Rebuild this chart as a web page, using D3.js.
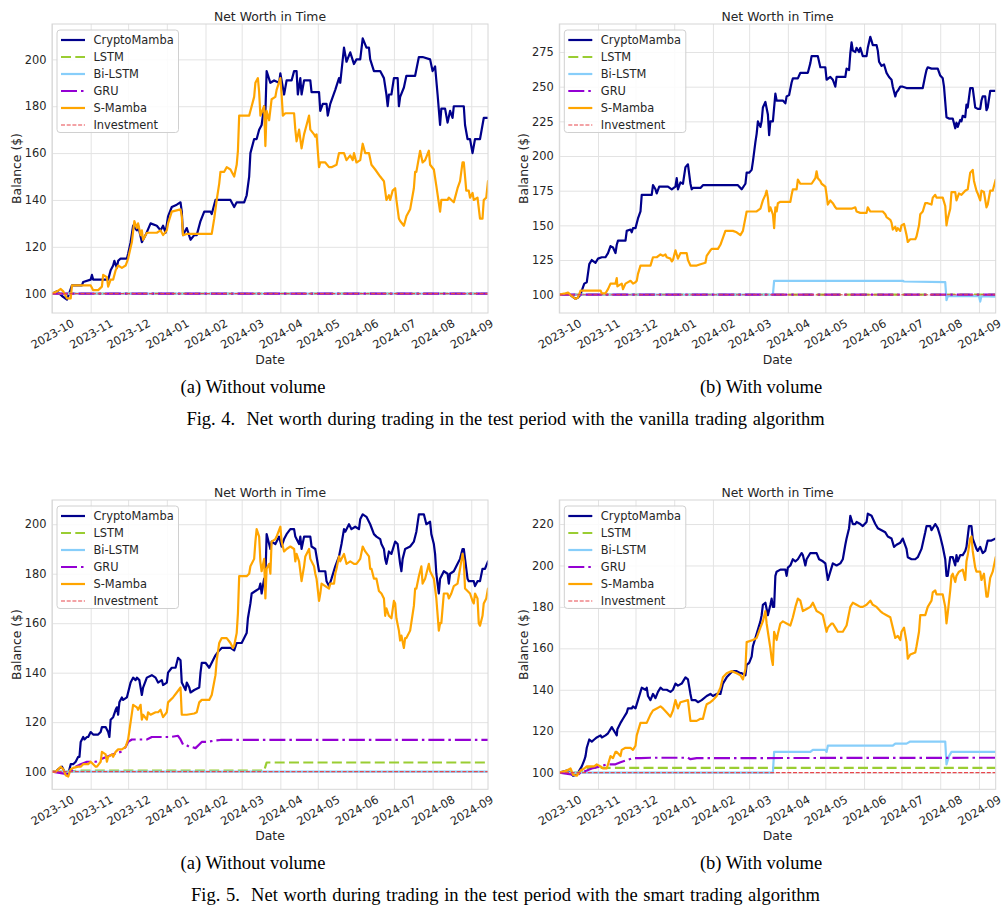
<!DOCTYPE html>
<html><head><meta charset="utf-8">
<script src="https://cdn.jsdelivr.net/npm/d3@7"></script>
<style>
body{margin:0;background:#fff}
svg{display:block}
.caption{white-space:pre}
</style>
</head><body>
<svg id="c" width="1007" height="913"></svg>
<script>
// ---------------- DATA (day offset from 2023-10-01, balance $) ----------------
const startDate = "2023-10-01";
const lastDay = 349.4;
const monthTicks = ["2023-10","2023-11","2023-12","2024-01","2024-02","2024-03","2024-04","2024-05","2024-06","2024-07","2024-08","2024-09"];
const seriesNames = ["CryptoMamba","LSTM","Bi-LSTM","GRU","S-Mamba","Investment"];

const yTicks4a = [100,120,140,160,180,200];
const yTicks4b = [100,125,150,175,200,225,250,275];
const yTicks5a = [100,120,140,160,180,200];
const yTicks5b = [100,120,140,160,180,200,220];
const yDomain4a = [91.75,215.1];
const yDomain4b = [86.8,295.2];
const yDomain5a = [92.86,209.8];
const yDomain5b = [91.96,231.6];

const investment = [[0,100],[349.4,100]];
const flat100 = [[0,100],[349.4,100]];

const fig4a_crypto = [[0,100],[4,101],[8,99],[12,97.5],[16,103.5],[24,103.5],[25,105],[31,106],[32,108],[33,106],[45,106],[47,110],[49,112],[50,114],[52,111],[53,114],[55,115],[60,115],[61,117],[63,122],[65,129],[68,127],[69,129],[72,122],[75,125],[79,130],[84,129],[87,127],[89,129],[91,126],[93,133],[96,137],[100,138],[103,139],[104,135],[105,125],[108,128],[111,123],[114,125],[116,125],[119,131],[122,135],[127,135],[128,134],[131,140],[143,140],[146,137],[148,139],[154,139],[156,142],[158,150],[159,160],[162,166],[164,166],[166,170],[168,172],[170,180],[171,177],[172,195],[175,190],[178,191],[182,190],[183,194],[186,185],[188,191],[192,191],[194,195],[196,195],[197,185],[199,192],[200,185],[202,191],[207,191],[208,186],[214,186],[215,178],[217,181],[220,181],[221,176],[223,181],[227,187],[230,192],[231,190],[234,205],[236,199],[239,203],[242,198],[244,200],[247,200],[249,209],[252,205],[254,205],[255,200],[258,195],[263,195],[266,192],[268,185],[269,180],[270,185],[272,185],[274,192],[277,192],[278,180],[279,184],[282,188],[284,193],[291,193],[294,201],[297,201],[303,200],[305,195],[307,197],[309,185],[311,172],[312,179],[315,179],[317,173],[319,178],[321,175],[322,180],[330,180],[331,172],[333,166],[335,166],[337,160],[339,166],[343,166],[346,175],[349.4,175]];
const fig4a_smamba = [[0,100],[4,101],[7,102],[9,101],[12,98],[15,98],[16,103.5],[31,103.5],[33,101.5],[37,101.5],[40,103],[41,108],[44,107],[45,103],[47,106],[49,106],[51,110],[53,112],[56,111],[59,112],[61,115],[64,122],[66,131],[68,128],[69,130],[71,125],[72,127],[73,123],[76,126],[79,126],[84,126],[87,127],[89,125],[92,127],[93,130],[96,135],[103,136],[104,133],[105,125],[108,125.5],[128,125.5],[130,132],[132,140],[134,147],[135,152],[138,152],[140,154],[143,153],[146,150],[148,155],[149,161],[150,176],[158,176],[159,178],[162,184],[163,190],[165,192],[166,186],[167,176],[170,180],[171,163],[172,178],[174,174],[176,183],[179,184],[180,187],[183,192],[184,185],[185,176],[187,177],[194,177],[195,170],[196,165],[198,170],[200,162],[202,168],[204,172],[206,176],[207,170],[210,168],[211,167],[212,168],[214,154],[215,156],[219,156],[222,154],[224,154],[228,155],[230,160],[234,160],[236,157],[239,159],[241,157],[242,160],[244,156],[247,157],[249,164],[251,160],[254,160],[256,155],[259,153],[263,150],[266,148],[268,140],[270,142],[271,140],[273,144],[275,145],[276,140],[278,132],[279,131],[282,129],[284,133],[287,136],[290,145],[291,152],[292,152],[294,158],[295,161],[297,156],[299,157],[302,161],[303,155],[306,153],[308,146],[311,135],[312,140],[317,140],[318,141],[320,140],[322,139],[323,141],[325,145],[327,148],[329,156],[330,156],[332,144],[334,144],[335,141],[337,143],[338,140],[341,141],[343,132],[345,132],[346,140],[348,141],[349.4,148]];

const fig4b_crypto = [[0,100],[5,100.5],[7,101],[10,99],[13,97],[15,98],[17,100],[18,103],[20,108],[22,109],[24,122],[26,125],[29,123],[31,126],[34,127],[37,127],[39,130],[41,135],[43,134],[45,130],[46,136],[47,139],[53,139],[54,146],[57,147],[58,145],[59,148],[61,148],[63,155],[65,160],[66,172],[70,172],[74,172],[75,179],[77,176],[78,173],[80,178],[87,178],[90,176],[93,178],[94,184],[95,176],[97,181],[99,180],[101,192],[103,194],[105,180],[106,176],[107,177],[113,177],[115,179],[139,179],[143,179],[146,176],[149,180],[150,188],[152,188],[154,190],[155,196],[157,210],[158,216],[159,225],[161,221],[162,225],[163,235],[165,239],[167,230],[168,215],[169,225],[171,225],[173,245],[174,240],[179,240],[181,238],[182,243],[184,244],[186,253],[187,256],[191,256],[193,260],[199,260],[201,267],[202,272],[207,272],[209,264],[213,264],[214,255],[217,257],[219,255],[221,250],[222,257],[229,257],[230,263],[232,262],[233,274],[234,282],[235,276],[237,275],[238,278],[240,275],[241,278],[243,272],[246,272],[247,278],[249,286],[250,283],[251,280],[254,280],[255,276],[256,268],[258,265],[260,266],[262,260],[264,257],[266,255],[267,250],[269,243],[270,246],[271,247],[273,250],[275,250],[278,249],[291,249],[293,258],[294,262],[295,264],[298,263],[303,263],[305,258],[307,256],[308,250],[310,228],[312,227],[315,227],[317,220],[318,224],[319,221],[321,226],[322,225],[323,229],[325,228],[326,237],[327,235],[329,249],[331,249],[333,235],[335,234],[337,234],[338,240],[339,243],[341,243],[342,233],[343,235],[345,247],[349.4,247]];
const fig4b_smamba = [[0,100],[5,101],[7,101.5],[10,99],[13,97],[15,98],[17,103],[33,103],[34,101],[37,101],[39,104],[41,108],[45,108],[46,112],[46.5,106],[50,108],[51,104],[53,108],[57,110],[59,108],[61,109],[62,110],[63,115],[65,121],[73,121],[74,124],[75,127],[78,127],[81,129],[83,128],[85,129],[86,127],[89,126],[90,124],[91,125],[93,132],[95,126],[97,130],[102,130],[103,125],[105,121],[110,121],[113,122],[117,123],[118,128],[121,132],[122,133],[127,133],[129,136],[131,141],[133,146],[139,146],[142,145],[145,143],[147,146],[150,160],[158,160],[161,162],[163,168],[165,172],[166,175],[167,170],[168,160],[169,163],[171,158],[172,148],[173,163],[174,160],[175,166],[177,167],[185,167],[186,172],[187,176],[190,176],[191,183],[193,180],[202,180],[205,184],[206,189],[207,184],[209,182],[210,180],[213,178],[214,172],[215,165],[217,168],[219,166],[221,163],[222,162],[234,162],[237,163],[238,160],[241,159],[246,159],[247,163],[249,160],[259,160],[261,158],[262,156],[265,154],[266,152],[267,147],[269,149],[270,146],[271,148],[273,146],[274,150],[276,151],[278,143],[279,138],[281,140],[285,140],[286,142],[288,150],[289,158],[291,160],[293,166],[295,166],[298,165],[299,170],[301,172],[302,170],[307,170],[309,164],[310,150],[311,155],[313,162],[314,174],[317,174],[318,168],[320,173],[322,172],[325,175],[327,176],[329,188],[331,190],[332,182],[334,175],[335,173],[337,168],[338,175],[340,174],[342,163],[343,165],[345,175],[347,175],[349.4,183]];
const fig4b_bilstm = [[0,100],[171,100],[172,110],[275,110],[276,109.5],[309,109],[310,96],[311,99],[336,99],[337,95],[338,99],[349.4,98.5]];

const fig5a_crypto = [[0,100],[3,100],[5,101],[8,102],[11,99],[13,99],[15,103],[17,103],[19,104],[21,106],[22,106],[23,112],[25,114],[26,113],[28,114],[29,114],[31,116],[33,115],[35,115],[37,115],[39,116],[40,118],[43,118],[45,116],[46,114],[47,121],[49,122],[51,125],[52,126],[53,123],[54,128],[56,130],[57,129],[60,130],[61,132],[63,136],[65,138],[67,137],[68,138],[70,137],[72,131],[73,134],[76,138],[80,139],[83,138],[85,136],[88,137],[89,135],[92,136],[93,140],[96,142],[99,142],[101,146],[103,145],[104,136],[107,133],[108,136],[110,134],[111,132],[114,133],[118,134],[119,140],[120,144],[123,144],[126,142],[128,144],[131,147],[134,149],[136,150],[140,150],[143,150],[146,149],[148,152],[152,152],[154,154],[156,156],[157,162],[159,168],[160,172],[163,173],[166,174],[167,176],[168,172],[170,178],[171,178],[172,196],[174,192],[175,190],[176,193],[179,192],[182,195],[184,191],[186,194],[188,196],[191,198],[194,198],[195,195],[198,192],[199,195],[200,190],[202,195],[207,195],[208,191],[211,190],[214,181],[215,181],[219,181],[220,177],[222,175],[224,178],[227,183],[230,187],[232,192],[234,198],[235,197],[238,200],[240,198],[243,199],[246,198],[247,202],[249,204],[252,203],[255,200],[258,196],[260,195],[263,194],[264,192],[266,190],[267,186],[268,184],[270,189],[272,188],[275,193],[277,192],[279,184],[280,181],[281,186],[283,190],[287,191],[290,193],[292,197],[294,204],[298,204],[300,200],[303,201],[304,196],[306,192],[307,188],[308,180],[310,172],[311,178],[314,181],[317,180],[318,176],[319,180],[322,181],[325,184],[327,186],[329,190],[330,190],[331,186],[333,178],[334,177],[338,177],[339,175],[341,177],[343,177],[345,182],[347,182],[349.4,185]];
const fig5a_smamba = [[0,100],[3,100],[5,101],[7,102],[9,101],[11,98.5],[13,98],[15,101],[17,101.5],[21,102],[23,102],[25,103],[29,103],[31,104],[35,102],[36,102],[39,104],[40,108],[43,107],[44,104],[45,106],[48,107],[49,106],[51,108],[53,109],[56,109],[59,110],[61,113],[63,120],[65,127],[68,126],[69,125],[71,127],[72,121],[73,123],[76,121],[77,124],[79,123],[83,124],[85,124],[87,125],[89,122],[92,124],[93,128],[95,129],[97,130],[100,132],[103,134],[104,123],[108,123],[114,123.5],[116,124],[118,128],[120,129],[126,129],[128,131],[131,139],[132,145],[134,152],[136,154],[140,154],[143,152],[145,150],[146,151],[148,156],[149,164],[150,179],[156,179],[158,180],[159,183],[162,186],[163,193],[164,198],[166,195],[167,185],[168,181],[170,186],[171,170],[172,182],[174,184],[175,180],[176,193],[179,194],[180,195],[183,199],[184,193],[186,189],[188,190],[191,191],[194,190],[195,185],[196,188],[198,185],[199,181],[200,177],[202,183],[203,187],[204,188],[206,190],[207,186],[210,183],[211,180],[212,178],[214,169],[215,172],[216,176],[219,175],[222,174],[223,176],[226,176],[227,180],[228,182],[230,187],[231,185],[234,188],[236,184],[239,185],[242,184],[244,184],[247,186],[249,191],[251,189],[254,187],[255,182],[256,182],[258,178],[260,178],[262,173],[264,172],[266,170],[267,163],[268,166],[270,163],[272,162],[274,169],[275,168],[276,162],[278,157],[279,153],[280,155],[282,150],[283,154],[284,154],[287,157],[290,167],[291,174],[292,174],[294,179],[296,183],[297,176],[299,178],[302,184],[303,181],[306,178],[308,170],[310,157],[311,160],[312,160],[314,172],[317,172],[318,170],[320,172],[322,175],[325,176],[327,182],[329,188],[330,185],[331,174],[333,173],[335,172],[337,169],[338,168],[339,172],[341,170],[342,160],[343,159],[345,163],[346,168],[348,170],[349.4,174]];
const fig5a_gru = [[0,100],[12,99],[15,100],[19,102],[23,103],[28,104],[35,104],[39,105],[44,106],[49,107],[55,108],[59,110],[61,112],[64,113],[71,113],[76,113],[80,114],[84,114],[89,114],[95,114],[101,114.5],[103,113],[105,111],[107,111],[110,110],[112,110],[115,109.5],[118,111],[120,112],[124,112],[130,112.5],[135,112.8],[349.4,112.8]];
const fig5a_lstm = [[0,100],[15,100],[20,100.4],[170,100.4],[171,102],[172,103.7],[349.4,103.7]];

const fig5b_crypto = [[0,100],[3,100.5],[6,101],[9,100],[11,98.5],[14,99],[16,101],[18,103],[20,106],[21,108],[22,112],[24,116],[26,115],[28,116],[30,117],[33,118],[34,117],[37,118],[39,119],[42,122],[45,119],[46,118],[46.5,121],[49,124],[50,125],[51,126],[54,129],[55,131],[58,131],[59,132],[61,131],[63,135],[65,139],[66,141],[69,140],[70,141],[71,137],[73,135],[75,138],[77,136],[79,139],[81,141],[83,140],[86,140],[89,139],[91,140],[93,143],[95,142],[98,143],[101,146],[103,145],[105,138],[106,135],[109,135],[111,134],[114,135],[118,137],[121,138],[123,137],[126,138],[129,138],[131,143],[134,146],[137,148],[139,149],[142,149],[145,148],[146,148],[149,147],[150,152],[152,153],[154,156],[155,161],[158,167],[161,173],[162,176],[163,181],[165,182],[166,179],[167,176],[169,181],[170,184],[171,180],[172,180],[173,195],[174,197],[177,198],[181,198],[182,195],[183,199],[185,200],[187,203],[189,202],[191,203],[194,206],[195,205],[197,200],[198,203],[201,206],[206,206],[208,203],[211,202],[213,201],[214,197],[215,193],[217,197],[219,201],[222,200],[225,201],[227,203],[229,210],[230,213],[232,218],[233,224],[235,220],[237,220],[238,221],[241,220],[243,219],[246,221],[247,225],[250,224],[253,220],[255,218],[258,217],[261,216],[263,214],[266,213],[268,209],[270,210],[273,211],[275,213],[278,208],[279,204],[282,203],[285,203],[287,204],[290,208],[293,216],[294,219],[297,219],[298,217],[301,220],[303,218],[305,214],[307,209],[309,203],[310,195],[311,195],[313,204],[315,204],[317,200],[318,205],[319,202],[321,205],[323,205],[325,207],[326,209],[328,219],[330,219],[331,213],[334,208],[335,207],[337,209],[339,206],[341,207],[343,212],[346,212],[349.4,213]];
const fig5b_smamba = [[0,100],[3,100.5],[6,101],[9,102],[11,99],[14,98.5],[17,101],[20,102],[22,103],[26,103],[28,103],[30,104],[33,103],[35,102],[38,102],[41,108],[43,107],[45,110],[46,110],[49,108],[50,111],[53,112],[57,112],[59,111],[61,113],[62,118],[65,124],[70,124],[73,128],[75,130],[78,131],[81,132],[83,131],[86,129],[89,127],[91,130],[93,135],[95,131],[97,134],[103,135],[105,125],[110,125],[113,126],[115,126],[117,131],[118,133],[121,134],[123,135],[126,137],[129,141],[131,146],[134,148],[138,149],[142,148],[145,147],[147,145],[149,150],[150,163],[155,164],[158,165],[161,170],[163,173],[165,178],[166,172],[167,168],[169,160],[170,155],[171,152],[172,168],[174,164],[175,167],[177,172],[179,173],[182,172],[185,171],[187,175],[189,180],[191,184],[193,183],[195,178],[198,179],[201,180],[203,182],[206,178],[209,177],[211,176],[214,168],[215,170],[218,172],[219,172],[222,169],[223,168],[227,168],[230,171],[231,174],[233,180],[235,182],[238,181],[241,180],[243,180],[246,181],[249,183],[251,181],[254,180],[257,178],[259,177],[262,176],[265,175],[267,170],[269,165],[271,166],[273,164],[274,168],[276,170],[278,163],[279,155],[281,157],[285,158],[286,161],[288,168],[289,176],[293,176],[295,180],[298,183],[299,187],[301,188],[302,186],[305,186],[307,186],[309,180],[310,172],[311,177],[313,188],[314,195],[315,196],[317,192],[318,195],[320,197],[323,198],[325,193],[326,202],[327,205],[329,213],[330,214],[331,207],[333,199],[334,197],[337,197],[338,193],[340,196],[342,185],[343,185],[345,194],[347,197],[349.4,204]];
const fig5b_gru = [[0,100],[11,99],[14,98.5],[17,100],[22,101],[26,102],[33,103],[38,104],[45,104],[49,105],[54,106],[59,107],[65,107],[73,107.2],[103,107.2],[105,106.5],[110,107],[349.4,107.2]];
const fig5b_lstm = [[0,100],[16,100],[20,101],[22,102.3],[349.4,102.3]];
const fig5b_bilstm = [[0,100],[171,100],[172,110],[201,110],[203,111],[213,111],[214,110],[215,113],[267,113],[269,114],[278,114],[281,115],[309,115],[310,104],[312,108],[314,110],[349.4,110]];

const subCaptions = ["(a) Without volume","(b) With volume","(a) Without volume","(b) With volume"];
const figCaptions = ["Fig. 4.  Net worth during trading in the test period with the vanilla trading algorithm",
                     "Fig. 5.  Net worth during trading in the test period with the smart trading algorithm"];

// ---------------- STYLE / LAYOUT ----------------
const styles = {
  "CryptoMamba": {color:"#00008b", width:2.2, dash:null},
  "LSTM":        {color:"#9acd32", width:2.2, dash:"10,4.3"},
  "Bi-LSTM":     {color:"#87cefa", width:2.2, dash:null},
  "GRU":         {color:"#9400d3", width:2.2, dash:"16,4,2.5,4"},
  "S-Mamba":     {color:"#ffa500", width:2.2, dash:null},
  "Investment":  {color:"#e8474c", width:1.1, dash:"4,1.7"}
};

const panels = [
  {left:52, top:24, right:488, bottom:313, yDomain:yDomain4a, yTicks:yTicks4a,
   data:{"CryptoMamba":fig4a_crypto,"LSTM":flat100,"Bi-LSTM":flat100,"GRU":flat100,"S-Mamba":fig4a_smamba,"Investment":investment},
   cap:subCaptions[0], capX:253, capY:393},
  {left:559.3, top:24, right:995.7, bottom:313, yDomain:yDomain4b, yTicks:yTicks4b,
   data:{"CryptoMamba":fig4b_crypto,"LSTM":flat100,"Bi-LSTM":fig4b_bilstm,"GRU":flat100,"S-Mamba":fig4b_smamba,"Investment":investment},
   cap:subCaptions[1], capX:761, capY:393},
  {left:52, top:500, right:488, bottom:789.3, yDomain:yDomain5a, yTicks:yTicks5a,
   data:{"CryptoMamba":fig5a_crypto,"LSTM":fig5a_lstm,"Bi-LSTM":flat100,"GRU":fig5a_gru,"S-Mamba":fig5a_smamba,"Investment":investment},
   cap:subCaptions[2], capX:253, capY:869},
  {left:559.3, top:500, right:995.7, bottom:789.3, yDomain:yDomain5b, yTicks:yTicks5b,
   data:{"CryptoMamba":fig5b_crypto,"LSTM":fig5b_lstm,"Bi-LSTM":fig5b_bilstm,"GRU":fig5b_gru,"S-Mamba":fig5b_smamba,"Investment":investment},
   cap:subCaptions[3], capX:761, capY:869}
];

const svg = d3.select("#c");
const start = new Date(startDate + "T00:00:00Z");
const toDate = d => new Date(start.getTime() + d * 864e5);
const tickDates = monthTicks.map(m => new Date(m + "-01T00:00:00Z"));
const FONT = "DejaVu Sans, sans-serif";
const TXT = "#262626";

panels.forEach((p, pi) => {
  const w = p.right - p.left, h = p.bottom - p.top;
  const x = d3.scaleUtc().domain([start, toDate(lastDay)]).range([0, w]);
  const y = d3.scaleLinear().domain(p.yDomain).range([h, 0]);
  const g = svg.append("g").attr("transform", `translate(${p.left},${p.top})`);

  // grid
  g.append("g").attr("transform", `translate(0,${h})`)
    .call(d3.axisBottom(x).tickValues(tickDates).tickSize(-h).tickFormat(""))
    .call(s => { s.select(".domain").remove(); s.selectAll("line").attr("stroke", "#e3e3e3").attr("stroke-width", 1); });
  g.append("g")
    .call(d3.axisLeft(y).tickValues(p.yTicks).tickSize(-w).tickFormat(""))
    .call(s => { s.select(".domain").remove(); s.selectAll("line").attr("stroke", "#e3e3e3").attr("stroke-width", 1); });

  // x tick labels
  g.append("g").attr("transform", `translate(0,${h})`)
    .call(d3.axisBottom(x).tickValues(tickDates).tickSize(0).tickFormat((d, i) => monthTicks[i]))
    .call(s => {
      s.select(".domain").remove();
      s.selectAll("text").attr("y", 0).attr("dy", "0.35em")
        .attr("transform", "translate(0,21) rotate(-30)")
        .attr("text-anchor", "middle")
        .attr("font-family", FONT).attr("font-size", 11.4).attr("fill", TXT);
    });
  // y tick labels
  g.append("g")
    .call(d3.axisLeft(y).tickValues(p.yTicks).tickSize(0).tickPadding(5.5))
    .call(s => {
      s.select(".domain").remove();
      s.selectAll("text").attr("font-family", FONT).attr("font-size", 11.4).attr("fill", TXT);
    });

  // clip
  const cid = "clip" + pi;
  svg.append("clipPath").attr("id", cid).append("rect").attr("width", w).attr("height", h);
  const lg = g.append("g").attr("clip-path", `url(#${cid})`);
  const line = d3.line().x(d => x(toDate(d[0]))).y(d => y(d[1]));
  seriesNames.forEach(n => {
    const st = styles[n];
    lg.append("path").datum(p.data[n])
      .attr("d", line).attr("fill", "none")
      .attr("stroke", st.color).attr("stroke-width", st.width)
      .attr("stroke-dasharray", st.dash)
      .attr("stroke-linejoin", "round").attr("stroke-linecap", st.dash ? "butt" : "round");
  });

  // frame
  g.append("rect").attr("width", w).attr("height", h)
    .attr("fill", "none").attr("stroke", "#d6d6d6").attr("stroke-width", 1);

  // title & labels
  g.append("text").attr("x", w / 2).attr("y", -3).attr("text-anchor", "middle")
    .attr("font-family", FONT).attr("font-size", 12.4).attr("fill", TXT).text("Net Worth in Time");
  g.append("text").attr("x", w / 2).attr("y", h + 50.5).attr("text-anchor", "middle")
    .attr("font-family", FONT).attr("font-size", 12.4).attr("fill", TXT).text("Date");
  g.append("text").attr("transform", `translate(-36,${h / 2}) rotate(-90)`)
    .attr("text-anchor", "middle").attr("dominant-baseline", "central")
    .attr("font-family", FONT).attr("font-size", 12.4).attr("fill", TXT).text("Balance ($)");

  // legend
  const leg = g.append("g").attr("transform", "translate(5,6)");
  leg.append("rect").attr("width", 121.5).attr("height", 102.5).attr("rx", 3)
    .attr("fill", "#fff").attr("fill-opacity", 0.85).attr("stroke", "#d0d0d0").attr("stroke-width", 1);
  seriesNames.forEach((n, i) => {
    const st = styles[n];
    const yy = 10 + i * 17;
    leg.append("line").attr("x1", 4).attr("x2", 28).attr("y1", yy).attr("y2", yy)
      .attr("stroke", st.color).attr("stroke-width", st.width).attr("stroke-dasharray", st.dash);
    leg.append("text").attr("x", 36.5).attr("y", yy).attr("dominant-baseline", "central")
      .attr("font-family", FONT).attr("font-size", 11.4).attr("fill", TXT).text(n);
  });

  // sub caption
  svg.append("text").attr("x", p.capX).attr("y", p.capY).attr("text-anchor", "middle")
    .attr("font-family", "Liberation Serif, Times New Roman, serif").attr("font-size", 18.5)
    .attr("fill", "#000").text(p.cap);
});

[425, 901].forEach((yy, i) => {
  svg.append("text").attr("class", "caption").attr("x", 505.5).attr("y", yy).attr("text-anchor", "middle")
    .attr("font-family", "Liberation Serif, Times New Roman, serif").attr("font-size", 18.5)
    .attr("word-spacing", 1)
    .attr("fill", "#000").text(figCaptions[i]);
});
</script>
</body></html>
